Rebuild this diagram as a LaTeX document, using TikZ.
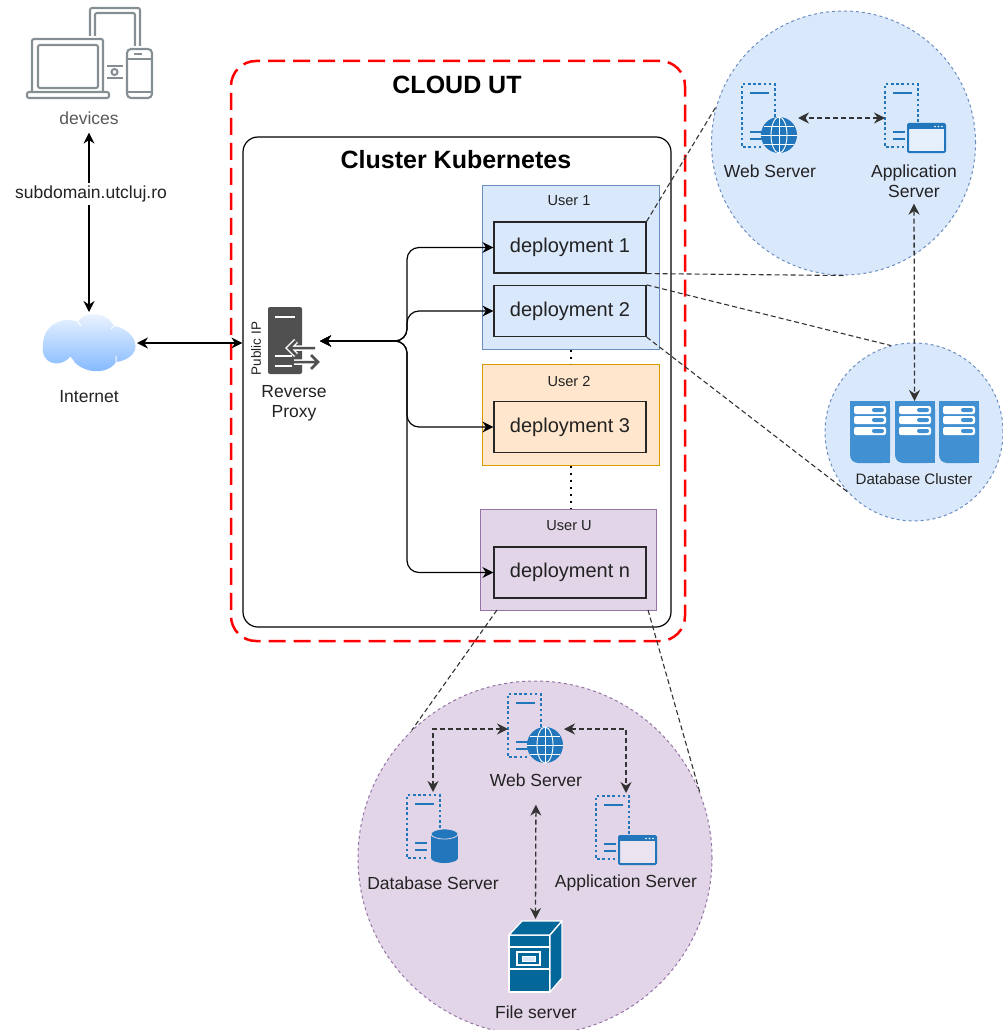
\documentclass[tikz,border=0pt]{standalone}
\usepackage{fontspec}
\setmainfont{Liberation Sans}
\usetikzlibrary{arrows.meta}
\definecolor{blueback}{HTML}{DAE8FC}
\definecolor{blueline}{HTML}{6C8EBF}
\definecolor{orangeback}{HTML}{FFE6CC}
\definecolor{orangeline}{HTML}{D79B00}
\definecolor{purpleback}{HTML}{E1D5E7}
\definecolor{purpleline}{HTML}{9673A6}
\definecolor{srvblue}{HTML}{2176BC}
\definecolor{rackblue}{HTML}{4190D2}
\definecolor{fileblue}{HTML}{036799}
\definecolor{devgray}{HTML}{848E93}
\definecolor{proxygray}{HTML}{505050}
\definecolor{textgray}{HTML}{222222}
\definecolor{cloudtop}{HTML}{F2F7FF}
\definecolor{cloudbot}{HTML}{7EB6FF}

\begin{document}
\begin{tikzpicture}
[
    x=1pt, y=-1pt,
    lbl/.style={font=\fontsize{17.5}{20}\selectfont, text=textgray, align=center, inner sep=0pt},
    small/.style={lbl, font=\fontsize{14.6}{17}\selectfont},
    title/.style={lbl, font=\fontsize{25}{30}\selectfont\bfseries, text=black},
    hit/.style={inner sep=0pt, outer sep=0pt},
    userbox/.style={draw, line width=1, minimum width=177, minimum height=101, inner sep=0pt},
    depbox/.style={draw=black!85, line width=1.2, minimum width=152, minimum height=51, inner sep=0pt,
        font=\fontsize{20}{24}\selectfont, text=textgray},
    zone/.style={circle, draw, dashed, line width=1, inner sep=0pt},
    arr/.style={line width=1.2, -{Stealth[length=11pt,width=11pt]}},
    arrbi/.style={line width=1.2, {Stealth[length=11pt,width=11pt]}-{Stealth[length=11pt,width=11pt]}},
    dsh/.style={line width=1.1, black!80, dash pattern=on 5pt off 3pt},
    dshbi/.style={dsh, line width=1.3, {Stealth[length=11pt,width=11pt]}-{Stealth[length=11pt,width=11pt]}},
    dots/.style={line width=2, dash pattern=on 2pt off 5pt},
    srvdot/.style={srvblue, line width=2.8, dash pattern=on 2.6pt off 2.6pt},
    srvbar/.style={srvblue, line width=2},
    srvframe/.pic={
        \draw[srvdot] (33,38) -- (33,0) -- (0,0) -- (0,63) -- (20,63);
        \draw[srvbar] (8,9) -- (27,9);
        \draw[srvbar] (8,48) -- (20,48);
        \draw[srvbar] (8,55) -- (20,55);
    },
    webpic/.pic={
        \pic at (0,0) {srvframe};
        \fill[srvblue] (37,51) circle (18);
        \draw[white, line width=.9] (37,51) ellipse (8 and 18);
        \draw[white, line width=.9] (37,33) -- (37,69) (19,51) -- (55,51)
            (22,42) -- (52,42) (22,60) -- (52,60);
    },
    apppic/.pic={
        \pic at (0,0) {srvframe};
        \draw[srvblue, line width=2, fill=white, fill opacity=.35, rounded corners=1] (23,40) rectangle (60,68);
        \fill[srvblue] (23,40) rectangle (60,45);
        \fill[white] (50,42.5) circle (.8) (53.5,42.5) circle (.8) (57,42.5) circle (.8);
    },
    dbpic/.pic={
        \pic at (0,0) {srvframe};
        \fill[srvblue] (24,39) rectangle (51,63);
        \fill[srvblue] (37.5,63) ellipse (13.5 and 5);
        \draw[purpleback, line width=.8, fill=srvblue] (37.5,39) ellipse (13.5 and 5);
    },
    filepic/.pic={
        \draw[white, line width=1.3, fill=fileblue, line join=round] (0,16) rectangle (41,73);
        \draw[white, line width=1.3, fill=fileblue, line join=round] (0,16) -- (13,2) -- (53,2) -- (41,16) -- cycle;
        \draw[white, line width=1.3, fill=fileblue, line join=round] (41,16) -- (53,2) -- (53,59) -- (41,73) -- cycle;
        \draw[white, line width=1.2] (0,28) -- (41,28) (0,50) -- (41,50);
        \draw[white, line width=1.2] (8,33) rectangle (31,46);
        \draw[white, line width=1, fill=blueback] (13,37) rectangle (26,42);
    },
    rackpic/.pic={
        \foreach \x in {0,45,89} {
            \begin{scope}[xshift=\x]
                \fill[rackblue, rounded corners=8] (0,0) rectangle (40,62);
                \fill[rackblue] (20,0) rectangle (40,62);
                \fill[rackblue] (0,0) rectangle (20,20);
                \foreach \y in {5,15,26} {
                    \fill[white, rounded corners=2] (4,\y) rectangle (36,\y+8);
                    \fill[rackblue, rounded corners=2] (22,\y+2) rectangle (34,\y+6);
                }
            \end{scope}
        }
    },
    proxypic/.pic={
        \fill[proxygray, rounded corners=2] (0,0) rectangle (34,67);
        \draw[white, line width=2] (7,10) -- (27,10);
        \draw[white, line width=5.5] (28,34) -- (21,41) -- (28,48) (21,41) -- (47,41);
        \draw[white, line width=5.5] (43,48) -- (50,55) -- (43,62) (26,55) -- (50,55);
        \draw[white, line width=2] (7,49) -- (24,49) (7,59) -- (24,59);
        \draw[proxygray, line width=2.5] (28,34) -- (21,41) -- (28,48) (21,41) -- (47,41);
        \draw[proxygray, line width=2.5] (43,48) -- (50,55) -- (43,62) (26,55) -- (50,55);
    },
    devpic/.pic={
        \draw[devgray, line width=2.1, rounded corners=2] (5,31) rectangle (76,85);
        \draw[devgray, line width=2.1, rounded corners=2] (11,37) rectangle (71,80);
        \draw[devgray, line width=2.1, fill=white, rounded corners=2] (0,84) rectangle (82,90);
        \draw[devgray, line width=2.1, rounded corners=2] (63,28) -- (63,0) -- (113,0) -- (113,38);
        \draw[devgray, line width=2.1, rounded corners=2] (68,28) -- (68,5) -- (108,5) -- (108,38);
        \draw[devgray, line width=2.1, fill=white, rounded corners=4] (100,41) rectangle (125,90);
        \draw[devgray, line width=2.1] (100,51) -- (125,51) (100,84) -- (125,84);
        \draw[devgray, line width=1.6] (107,46) -- (115,46);
        \draw[devgray, line width=2.1] (80,58) -- (96,58) (80,70) -- (96,70);
        \draw[devgray, line width=2.1] (87.5,64) circle (3);
    },
    cloudpic/.pic={
        \path[top color=cloudtop, bottom color=cloudbot, shading angle=0]
            (-46,3) .. controls (-47,-17) and (-27,-28) .. (-11,-21)
            .. controls (-7,-31) and (17,-33) .. (25,-17)
            .. controls (39,-15) and (49,-3) .. (46,7)
            .. controls (44,13) and (36,18) .. (27,19)
            .. controls (19,32) and (-7,32) .. (-19,14)
            .. controls (-31,27) and (-49,19) .. (-46,3) -- cycle;
        \draw[white, line width=1] (-11,-21) -- (-8,-17) (25,-17) -- (22,-14)
            (27,19) -- (27,13) (-19,14) -- (-15,19);
    },
]
\useasboundingbox (0,0) rectangle (1003,1030);

% zones
\node[zone, draw=blueline, fill=blueback, minimum size=264] (webzone) at (843.5,143) {};
\node[zone, draw=blueline, fill=blueback, minimum size=178] (dbzone) at (914,432) {};
\node[zone, draw=purpleline, fill=purpleback, minimum size=354] (userzone) at (535,858) {};

% outer boxes
\node[draw=red, line width=2.5, dash pattern=on 17pt off 8pt, rounded corners=25,
    minimum width=454, minimum height=580] (cloudut) at (458,351) {};
\node[title] (cloudutlbl) at (457,85) {CLOUD UT};
\node[draw=black, line width=1.2, rounded corners=15,
    minimum width=428, minimum height=490] (cluster) at (457,382) {};
\node[title] (clusterlbl) at (456,160) {Cluster Kubernetes};

% users
\node[userbox, draw=blueline, fill=blueback, minimum height=164] (user1) at (570.5,267) {};
\node[small] (user1lbl) at (569,201) {User 1};
\node[userbox, draw=orangeline, fill=orangeback] (user2) at (570.5,414.5) {};
\node[small] (user2lbl) at (569,381) {User 2};
\node[userbox, draw=purpleline, fill=purpleback, minimum width=176] (userU) at (568,559.5) {};
\node[small] (userUlbl) at (569,526) {User U};
\node[depbox] (dep1) at (570,247.5) {deployment 1};
\node[depbox] (dep2) at (570,311) {deployment 2};
\node[depbox] (dep3) at (570,427) {deployment 3};
\node[depbox] (depn) at (570,572.5) {deployment n};
\draw[dots] (user1.south) -- (user2.north);
\draw[dots] (user2.south) -- (user2.south |- userU.north);

% left side
\node[hit, minimum width=124, minimum height=90] (devices) at (89,53) {};
\pic at (devices.north west) {devpic};
\node[lbl, text=black!65] (deviceslbl) at (89,118) {devices};
\node[hit, minimum width=96, minimum height=62] (internet) at (89,343) {};
\pic at (internet) {cloudpic};
\node[lbl] (internetlbl) at (89,397) {Internet};
\node[hit, minimum width=52, minimum height=68] (proxy) at (294,341) {};
\pic at (proxy.north west) {proxypic};
\node[lbl, font=\fontsize{13.5}{16}\selectfont, rotate=90] (publicip) at (256,348.5) {Public IP};
\node[lbl] (proxylbl) at (294,403) {Reverse\\Proxy};
\draw[arrbi, shorten <=8pt] (deviceslbl.south) -- (internet.north)
    node[pos=.37, xshift=2, lbl, fill=white, inner sep=3pt] (subdomain) {subdomain.utcluj.ro};
\draw[arrbi] (internet.east) -- (internet.east -| cluster.west);

% proxy to deployments
\coordinate (trunk) at (407,341);
\draw[arrbi, rounded corners=12] (proxy.east) -- (trunk) |- (dep1.west);
\draw[arrbi, rounded corners=12] (proxy.east) -- (trunk) |- (dep2.west);
\draw[arrbi, rounded corners=12] (proxy.east) -- (trunk) |- (dep3.west);
\draw[arrbi, rounded corners=12] (proxy.east) -- (trunk) |- (depn.west);

% web zone
\node[hit, minimum width=56, minimum height=70] (web1) at (770,119) {};
\pic at (web1.north west) {webpic};
\node[lbl] (web1lbl) at (770,171) {Web Server};
\node[hit, minimum width=61, minimum height=68] (app1) at (915.5,118) {};
\pic at (app1.north west) {apppic};
\node[lbl] (app1lbl) at (914,181) {Application\\Server};
\draw[dshbi] (app1.west) -- (app1.west -| web1.east);

% database zone
\node[hit, minimum width=129, minimum height=62] (dbrack) at (914.5,432) {};
\pic at (dbrack.north west) {rackpic};
\node[lbl, font=\fontsize{15.1}{18}\selectfont] (dbracklbl) at (914,479) {Database Cluster};
\draw[dshbi, shorten <=6pt] (app1lbl.south) -- (dbrack.north);

% user zone
\node[hit, minimum width=56, minimum height=70] (web2) at (536,729) {};
\pic at (web2.north west) {webpic};
\node[lbl] (web2lbl) at (536,780) {Web Server};
\node[hit, minimum width=52, minimum height=68] (db2) at (433,829) {};
\pic at (db2.north west) {dbpic};
\node[lbl] (db2lbl) at (433,883) {Database Server};
\node[hit, minimum width=60, minimum height=68] (app2) at (626,830) {};
\pic at (app2.north west) {apppic};
\node[lbl] (app2lbl) at (626,883) {Application Server};
\node[hit, minimum width=53, minimum height=74] (file2) at (535.5,956) {};
\pic at (file2.north west) {filepic};
\node[lbl] (file2lbl) at (536,1012) {File server};
\draw[dshbi, shorten >=3pt] (web2.west) -| (db2.north);
\draw[dshbi, shorten >=3pt] (web2.east) -| (app2.north);
\draw[dshbi, shorten <=18pt] (web2lbl.south) -- (file2.north);

% links from the deployments to the zones
\coordinate (uleft) at (497,610);
\coordinate (uright) at (648,610);
\draw[dsh] (dep1.north east) -- (webzone.164.6);
\draw[dsh] (dep1.south east) -- (webzone.270);
\draw[dsh] (dep2.north east) -- (dbzone.105.6);
\draw[dsh] (dep2.south east) -- (dbzone.222.3);
\draw[dsh] (uleft) -- (userzone.134.8);
\draw[dsh] (uright) -- (userzone.22.4);
\end{tikzpicture}
\end{document}
